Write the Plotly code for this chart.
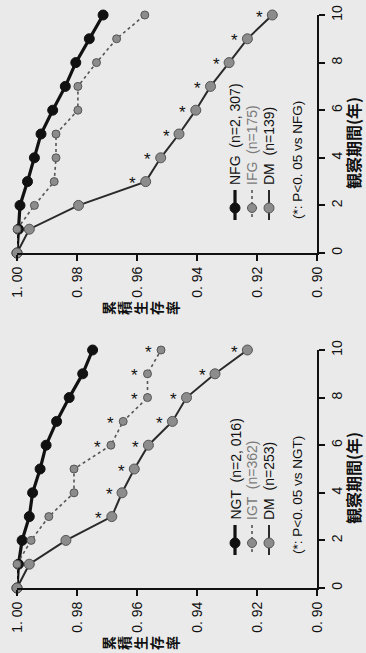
import plotly.graph_objects as go

# ---- data -------------------------------------------------------------
years = [0, 1, 2, 3, 4, 5, 6, 7, 8, 9, 10]

# upper panel: fasting glucose groups
nfg = [1.000, 0.9995, 0.9990, 0.9965, 0.9942, 0.9920, 0.9881, 0.9839, 0.9804, 0.9759, 0.9713]
ifg = [1.000, 1.000, 0.9942, 0.9876, 0.9870, 0.9870, 0.9797, 0.9797, 0.9735, 0.9668, 0.9574]
dm_top = [1.000, 0.9959, 0.9795, 0.9571, 0.9521, 0.9460, 0.9404, 0.9355, 0.9293, 0.9232, 0.9149]
dm_top_sig = [3, 4, 5, 6, 7, 8, 9, 10]

# lower panel: glucose tolerance groups
ngt = [1.000, 0.9995, 0.9983, 0.9959, 0.9948, 0.9923, 0.9903, 0.9868, 0.9826, 0.9781, 0.9748]
igt = [1.000, 1.000, 0.9953, 0.9894, 0.9810, 0.9810, 0.9687, 0.9646, 0.9565, 0.9565, 0.9520]
dm_bot = [1.000, 0.9959, 0.9837, 0.9684, 0.9650, 0.9609, 0.9562, 0.9482, 0.9435, 0.9340, 0.9232]
igt_sig = [6, 7, 8, 9, 10]
dm_bot_sig = [3, 4, 5, 6, 7, 8, 9, 10]

rate_ticks = [1.00, 0.98, 0.96, 0.94, 0.92, 0.90]
rate_labels = ["1. 00", "0. 98", "0. 96", "0. 94", "0. 92", "0. 90"]
year_ticks = [0, 2, 4, 6, 8, 10]
year_labels = ["0", "2", "4", "6", "8", "10"]

top_names = ["NFG  (n=2, 307)", "IFG  (n=175)", "DM  (n=139)"]
bot_names = ["NGT  (n=2, 016)", "IGT  (n=362)", "DM  (n=253)"]
top_note = "(*: P<0. 05 vs NFG)"
bot_note = "(*: P<0. 05 vs NGT)"
rate_title = "累積生存率"
year_title = "観察期間(年)"

# ---- layout geometry (pixels) ----------------------------------------
W, H = 366, 653
BG = "#eaeaea"
INK = "#111111"
GREY_FILL = "#8c8c8c"
GREY_LINE = "#555555"
FONT = "Liberation Sans, Arial, sans-serif"
CJK = "Noto Sans CJK JP, sans-serif"


def px(x):
    return x / W


def py(y):
    return 1 - y / H


X_LEFT, X_RIGHT = 17, 317
panels = [
    dict(top=15, bottom=253, xa="x", ya="y",
         series=(nfg, ifg, dm_top), names=top_names, note=top_note,
         sig=[(dm_top, dm_top_sig)]),
    dict(top=350, bottom=588, xa="x2", ya="y2",
         series=(ngt, igt, dm_bot), names=bot_names, note=bot_note,
         sig=[(igt, igt_sig), (dm_bot, dm_bot_sig)]),
]

styles = [
    dict(line=dict(color=INK, width=3.2),
         marker=dict(size=10, color=INK, line=dict(color=INK, width=1))),
    dict(line=dict(color=GREY_LINE, width=1.6, dash="dot"),
         marker=dict(size=8, color=GREY_FILL, line=dict(color=GREY_LINE, width=1))),
    dict(line=dict(color="#2a2a2a", width=2),
         marker=dict(size=10, color=GREY_FILL, line=dict(color=GREY_LINE, width=1))),
]

fig = go.Figure()
annotations = []
shapes = []

for p in panels:
    for vals, st in zip(p["series"], styles):
        fig.add_trace(go.Scatter(
            x=vals, y=years, mode="lines+markers", xaxis=p["xa"], yaxis=p["ya"],
            line=st["line"], marker=st["marker"], cliponaxis=False,
            showlegend=False, hoverinfo="skip"))

    # significance marks beside the points
    for vals, idx in p["sig"]:
        for yr in idx:
            annotations.append(dict(
                x=vals[years.index(yr)], y=yr, xref=p["xa"], yref=p["ya"],
                text="*", showarrow=False, xshift=-13, yshift=-2,
                font=dict(family=FONT, size=17, color=INK)))

    # legend drawn sideways
    base = p["top"]
    cols = [235, 252, 269]
    for i, (name, st) in enumerate(zip(p["names"], styles)):
        cx = cols[i]
        ls = st["line"]
        shapes.append(dict(type="line", xref="paper", yref="paper",
                           x0=px(cx), x1=px(cx), y0=py(base + 175), y1=py(base + 205),
                           line=dict(color=ls["color"], width=ls["width"],
                                     dash=ls.get("dash", "solid"))))
        r = 5 if i != 1 else 4.5
        mk = st["marker"]
        shapes.append(dict(type="circle", xref="paper", yref="paper",
                           x0=px(cx - r), x1=px(cx + r),
                           y0=py(base + 193 + r), y1=py(base + 193 - r),
                           fillcolor=mk["color"], line=dict(color=mk["line"]["color"], width=1)))
        annotations.append(dict(
            x=px(cx), y=py(base + 172), xref="paper", yref="paper",
            text=name, textangle=-90, showarrow=False,
            xanchor="center", yanchor="bottom",
            font=dict(family=FONT, size=14,
                      color=INK if i != 1 else "#7a7a7a")))
    annotations.append(dict(
        x=px(297), y=py(base + 206), xref="paper", yref="paper",
        text=p["note"], textangle=-90, showarrow=False,
        xanchor="center", yanchor="bottom",
        font=dict(family=FONT, size=13.5, color=INK)))

    # survival axis title: characters stacked, turned with the chart
    for k, ch in enumerate(rate_title):
        annotations.append(dict(
            x=px(108 + 16 * k), y=py(p["bottom"] + 55), xref="paper", yref="paper",
            text="<b>" + ch + "</b>", textangle=-90, showarrow=False,
            xanchor="center", yanchor="middle",
            font=dict(family=CJK, size=14, color=INK)))
    # time axis title
    annotations.append(dict(
        x=px(353), y=py(p["bottom"] - 110), xref="paper", yref="paper",
        text="<b>" + year_title + "</b>", textangle=-90, showarrow=False,
        xanchor="center", yanchor="middle",
        font=dict(family=CJK, size=16, color=INK)))

axis_common = dict(showline=True, linecolor=INK, linewidth=2, ticks="outside",
                   ticklen=6, tickwidth=2, tickcolor=INK, showgrid=False,
                   zeroline=False, automargin=False, tickangle=-90,
                   tickfont=dict(family=FONT, size=14, color=INK))

layout = dict(
    width=W, height=H, margin=dict(l=0, r=0, t=0, b=0),
    paper_bgcolor=BG, plot_bgcolor=BG, showlegend=False,
    annotations=annotations, shapes=shapes,
)
for p in panels:
    xk = "xaxis" if p["xa"] == "x" else "xaxis2"
    yk = "yaxis" if p["ya"] == "y" else "yaxis2"
    layout[xk] = dict(axis_common, domain=[px(X_LEFT), px(X_RIGHT)],
                      range=[1.0, 0.9], anchor=p["ya"], side="bottom",
                      tickvals=rate_ticks, ticktext=rate_labels)
    layout[yk] = dict(axis_common, domain=[py(p["bottom"]), py(p["top"])],
                      range=[0, 10], anchor=p["xa"], side="right",
                      tickvals=year_ticks, ticktext=year_labels)

fig.update_layout(**layout)
fig.write_html("out.html", config=dict(displayModeBar=False))
